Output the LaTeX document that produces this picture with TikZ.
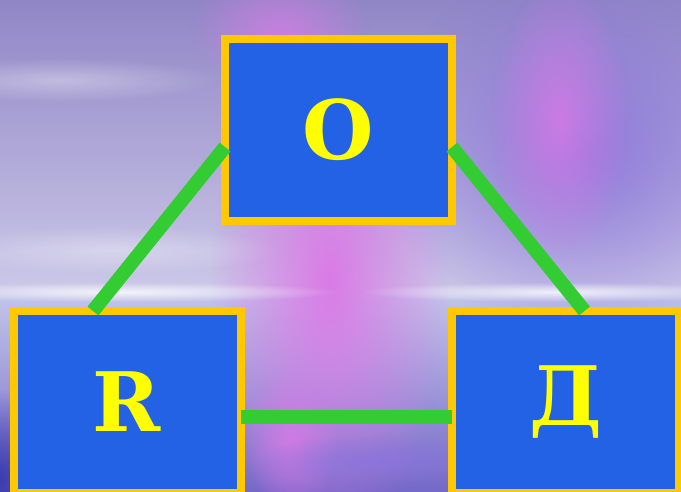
\documentclass[tikz,border=0pt]{standalone}
\usepackage{fontspec}
\newfontfamily\slabfont{DejaVu Serif}
\usetikzlibrary{fadings}

\definecolor{boxblue}{HTML}{2361E5}
\definecolor{boxgold}{HTML}{FFC800}
\definecolor{letteryellow}{HTML}{FFFF00}
\definecolor{linkgreen}{HTML}{33CC33}
\definecolor{skytop}{HTML}{9086C6}
\definecolor{skyhaze}{HTML}{CCC8E8}
\definecolor{skysea}{HTML}{C4C6EA}
\definecolor{skydeep}{HTML}{7468C8}
\definecolor{skypink}{HTML}{DA7AE6}
\definecolor{skyviolet}{HTML}{8A74DC}
\definecolor{skyblue}{HTML}{3C3CB0}

\tikzfading[name=soft glow, inner color=transparent!0, outer color=transparent!100]

\begin{document}
\begin{tikzpicture}[
  x=1pt, y=-1pt,
  box/.style={draw=boxgold, line width=8pt, fill=boxblue, rectangle, outer sep=0pt,
    minimum width=227pt, minimum height=182pt, inner sep=0pt,
    text=letteryellow, font=\slabfont\bfseries\fontsize{82}{82}\selectfont},
  link/.style={draw=linkgreen, line width=14pt},
  glow/.style={path fading=soft glow}
]
\useasboundingbox (0,0) rectangle (681,492);
\clip (0,0) rectangle (681,492);

% sky behind the boxes
\shade[top color=skytop, bottom color=skyhaze] (0,0) rectangle (681,292);
\shade[top color=skysea, bottom color=skydeep] (0,292) rectangle (681,492);
\fill[skyviolet, glow, opacity=.9] (580,150) ellipse (200 and 190);
\fill[skypink, glow] (330,280) ellipse (120 and 260);
\fill[skypink, glow, opacity=.8] (560,120) ellipse (70 and 140);
\fill[skypink, glow, opacity=.7] (280,30) ellipse (90 and 60);
\fill[skypink, glow, opacity=.8] (290,440) ellipse (50 and 70);
\fill[white, glow, opacity=.35] (60,80) ellipse (160 and 22);
\fill[white, glow, opacity=.35] (110,250) ellipse (170 and 24);
\fill[white, glow, opacity=.8] (120,292) ellipse (220 and 10);
\fill[white, glow, opacity=.8] (560,292) ellipse (200 and 10);
\fill[skyviolet, glow, opacity=.8] (380,460) ellipse (120 and 25);
\fill[skyblue, glow] (0,480) ellipse (60 and 90);

% boxes
\node[box] (O) at (338.5,130) {O};
\node[box] (R) at (127,402) {R};
\node[box] (D) at (565.5,402) {Д};

% links
\draw[link] ([yshift=-17pt]O.west) -- ([xshift=-34pt]R.north);
\draw[link] ([yshift=-17pt]O.east) -- ([xshift=19pt]D.north);
\draw[link] ([yshift=-15pt]R.east) -- ([yshift=-15pt]D.west);
\end{tikzpicture}
\end{document}
